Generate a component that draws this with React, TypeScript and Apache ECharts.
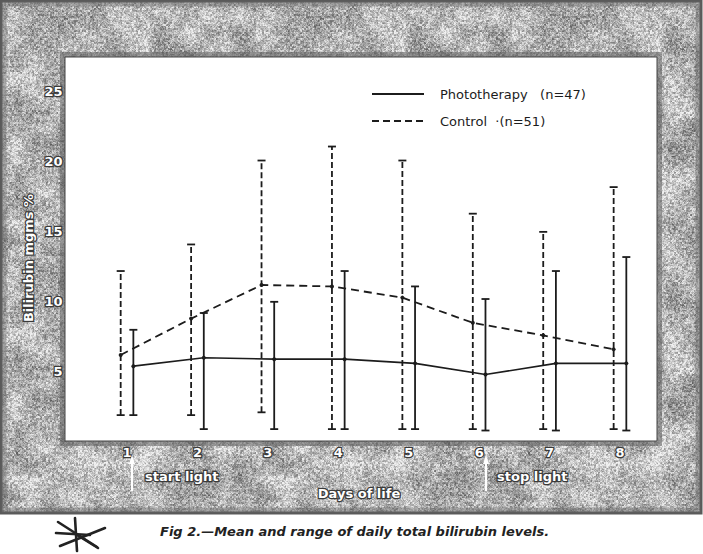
import React, { useEffect, useRef } from "react";
import * as echarts from "echarts";

const DAYS = [1, 2, 3, 4, 5, 6, 7, 8];
const PHOTO_MEAN = [5.4, 6.0, 5.9, 5.9, 5.6, 4.8, 5.6, 5.6];
const PHOTO_MIN = [1.9, 0.9, 0.9, 0.9, 0.9, 0.8, 0.8, 0.8];
const PHOTO_MAX = [8.0, 9.2, 10.0, 12.2, 11.1, 10.2, 12.2, 13.2];
const CONTROL_MEAN = [6.2, 8.8, 11.2, 11.1, 10.3, 8.5, 7.6, 6.6];
const CONTROL_MIN = [1.9, 1.9, 2.1, 0.9, 0.9, 0.9, 0.9, 0.9];
const CONTROL_MAX = [12.2, 14.1, 20.1, 21.1, 20.1, 16.3, 15.0, 18.2];
const Y_TICKS = [5, 10, 15, 20, 25];
const LEGEND_LABELS = ["Phototherapy   (n=47)", "Control  ·(n=51)"];
const Y_NAME = "Bilirubin mgms %";
const X_NAME = "Days of life";
const START_LABEL = "start light";
const STOP_LABEL = "stop light";
const CAPTION = "Fig 2.—Mean and range of daily total bilirubin levels.";

const OFFSET = 0.09;
const INK = "#1c1c1c";

function hash(x: number, y: number): number {
  let h = Math.imul(x, 374761393) ^ Math.imul(y, 668265263);
  h = Math.imul(h ^ (h >>> 13), 1274126177);
  h = h ^ (h >>> 16);
  return (h >>> 0) / 4294967295;
}

function smooth(x: number, y: number, cell: number, seed: number): number {
  const gx = x / cell, gy = y / cell;
  const x0 = Math.floor(gx), y0 = Math.floor(gy);
  const fx = gx - x0, fy = gy - y0;
  const a = hash(x0, y0 + seed), b = hash(x0 + 1, y0 + seed);
  const c = hash(x0, y0 + 1 + seed), d = hash(x0 + 1, y0 + 1 + seed);
  const top = a + (b - a) * fx, bot = c + (d - c) * fx;
  return top + (bot - top) * fy;
}

function makeNoise(): HTMLCanvasElement {
  const size = 256;
  const c = document.createElement("canvas");
  c.width = size;
  c.height = size;
  const ctx = c.getContext("2d")!;
  const img = ctx.createImageData(size, size);
  for (let y = 0; y < size; y++) {
    for (let x = 0; x < size; x++) {
      const blotch = smooth(x, y, 16, 5000);
      const mid = hash(Math.floor(x / 2), Math.floor(y / 2) + 777);
      const fine = hash(x, y);
      let v = 182 + (blotch - 0.5) * 70 + (mid - 0.5) * 70 + (fine - 0.5) * 60;
      v = Math.max(70, Math.min(240, v));
      const i = (y * size + x) * 4;
      img.data[i] = v;
      img.data[i + 1] = v;
      img.data[i + 2] = v;
      img.data[i + 3] = 255;
    }
  }
  ctx.putImageData(img, 0, 0);
  return c;
}

function errorBars(name: string, mins: number[], maxs: number[], off: number, dashed: boolean) {
  return {
    name,
    type: "custom",
    z: 3,
    data: DAYS.map((d, i) => [d + off, mins[i], maxs[i]]),
    encode: { x: 0, y: [1, 2] },
    renderItem: (_params: any, api: any) => {
      const x = api.value(0);
      const lo = api.coord([x, api.value(1)]);
      const hi = api.coord([x, api.value(2)]);
      const hw = 4;
      const base = { stroke: INK, lineWidth: 1.8 };
      return {
        type: "group",
        children: [
          {
            type: "line",
            shape: { x1: lo[0], y1: lo[1], x2: hi[0], y2: hi[1] },
            style: { ...base, lineDash: dashed ? [6, 3] : null },
          },
          { type: "line", shape: { x1: hi[0] - hw, y1: hi[1], x2: hi[0] + hw, y2: hi[1] }, style: base },
          { type: "line", shape: { x1: lo[0] - hw, y1: lo[1], x2: lo[0] + hw, y2: lo[1] }, style: base },
        ],
      };
    },
  };
}

const whiteLabel = {
  color: "#ffffff",
  fontFamily: "DejaVu Sans",
  fontWeight: "bold" as const,
  fontSize: 13,
  textBorderColor: "#3a3a3a",
  textBorderWidth: 2.5,
};

const whiteText = (text: string, x: number, y: number, extra: any = {}) => ({
  type: "text",
  z: 5,
  x,
  y,
  ...extra,
  style: {
    text,
    fill: "#fff",
    font: "bold 13px 'DejaVu Sans'",
    verticalAlign: "middle",
    stroke: "#3a3a3a",
    lineWidth: 2.5,
    ...(extra.style || {}),
  },
});

export default function App() {
  const ref = useRef<HTMLDivElement>(null);
  useEffect(() => {
    document.body.style.margin = "0";
    const chart = echarts.init(ref.current!, null, { renderer: "svg" });
    const noise = makeNoise();
    const frameL = 65, frameT = 57, frameR = 657, frameB = 441;
    const spokes = [
      [75, 518, 77, 551],
      [58, 522, 97, 547],
      [60, 546, 105, 528],
      [56, 533, 90, 535],
      [77, 535, 98, 548],
    ];
    const option: any = {
      animation: false,
      grid: { left: 56.6, right: 47.8, top: 57, bottom: 112.3, containLabel: false },
      xAxis: {
        type: "value",
        min: 0,
        max: 8.5,
        axisLine: { show: false },
        axisTick: { show: false },
        splitLine: { show: false },
        axisLabel: { ...whiteLabel, customValues: DAYS, margin: 4 },
      },
      yAxis: {
        type: "value",
        min: 0,
        max: 27.5,
        offset: -8,
        axisLine: { show: false },
        axisTick: { show: false },
        splitLine: { show: false },
        axisLabel: { ...whiteLabel, customValues: Y_TICKS, margin: 2 },
      },
      graphic: [
        {
          type: "rect",
          z: -10,
          shape: { x: 1, y: 1, width: 700, height: 512 },
          style: { fill: { image: noise, repeat: "repeat" } as any, stroke: "#5a5a5a", lineWidth: 3 },
        },
        {
          type: "rect",
          z: -9,
          shape: { x: 4, y: 4, width: 694, height: 506 },
          style: { fill: "none", stroke: "#6a6a6a", lineWidth: 5, opacity: 0.45 },
        },
        {
          type: "rect",
          z: -9,
          shape: { x: frameL, y: frameT, width: frameR - frameL, height: frameB - frameT },
          style: { fill: "none", stroke: "#5e5e5e", lineWidth: 10, opacity: 0.55 },
        },
        {
          type: "rect",
          z: -8,
          shape: { x: frameL, y: frameT, width: frameR - frameL, height: frameB - frameT },
          style: { fill: "#ffffff", stroke: "#444", lineWidth: 1 },
        },
        // legend
        { type: "line", z: 5, shape: { x1: 372, y1: 94, x2: 424, y2: 94 }, style: { stroke: INK, lineWidth: 1.8 } },
        {
          type: "line",
          z: 5,
          shape: { x1: 372, y1: 121, x2: 424, y2: 121 },
          style: { stroke: INK, lineWidth: 1.8, lineDash: [7, 4] },
        },
        {
          type: "text",
          z: 5,
          x: 440,
          y: 94,
          style: { text: LEGEND_LABELS[0], fill: INK, font: "13px 'DejaVu Sans'", verticalAlign: "middle" },
        },
        {
          type: "text",
          z: 5,
          x: 440,
          y: 121,
          style: { text: LEGEND_LABELS[1], fill: INK, font: "13px 'DejaVu Sans'", verticalAlign: "middle" },
        },
        // y axis name
        whiteText(Y_NAME, 28, 258, { rotation: Math.PI / 2, style: { align: "center" } }),
        // x axis name
        whiteText(X_NAME, 359, 493, { style: { align: "center" } }),
        // start / stop light arrows
        ...[
          [132, START_LABEL, 145],
          [486, STOP_LABEL, 497],
        ].flatMap(([ax, label, tx]: any) => [
          { type: "line", z: 5, shape: { x1: ax, y1: 491, x2: ax, y2: 462 }, style: { stroke: "#fff", lineWidth: 2 } },
          {
            type: "polygon",
            z: 5,
            shape: { points: [[ax - 3, 464], [ax + 3, 464], [ax, 455]] },
            style: { fill: "#fff" },
          },
          whiteText(label, tx, 476),
        ]),
        // asterisk
        ...spokes.map((s) => ({
          type: "line",
          z: 5,
          shape: { x1: s[0], y1: s[1], x2: s[2], y2: s[3] },
          style: { stroke: "#222", lineWidth: 2.6, lineCap: "round" },
        })),
        {
          type: "text",
          z: 5,
          x: 160,
          y: 531,
          style: {
            text: CAPTION,
            fill: "#222",
            font: "italic bold 13px 'DejaVu Sans'",
            verticalAlign: "middle",
          },
        },
      ],
      series: [
        errorBars("Control range", CONTROL_MIN, CONTROL_MAX, -OFFSET, true),
        errorBars("Phototherapy range", PHOTO_MIN, PHOTO_MAX, OFFSET, false),
        {
          name: "Control",
          type: "line",
          z: 4,
          data: DAYS.map((d, i) => [d - OFFSET, CONTROL_MEAN[i]]),
          symbol: "circle",
          symbolSize: 4,
          itemStyle: { color: INK },
          lineStyle: { color: INK, width: 1.8, type: [8, 5] },
        },
        {
          name: "Phototherapy",
          type: "line",
          z: 4,
          data: DAYS.map((d, i) => [d + OFFSET, PHOTO_MEAN[i]]),
          symbol: "circle",
          symbolSize: 4,
          itemStyle: { color: INK },
          lineStyle: { color: INK, width: 1.6 },
        },
      ],
    };
    chart.setOption(option);
    return () => chart.dispose();
  }, []);
  return <div ref={ref} style={{ width: 703, height: 554, background: "#fff" }} />;
}
